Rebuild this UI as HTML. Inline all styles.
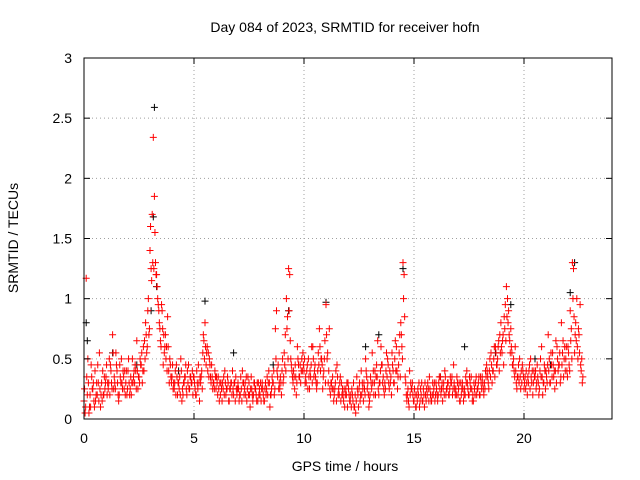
<!DOCTYPE html>
<html><head><meta charset="utf-8"><style>
body{margin:0;background:#fff;}
svg{display:block;font-family:"Liberation Sans",sans-serif;}
</style></head><body>
<svg id="c" width="640" height="480" xmlns="http://www.w3.org/2000/svg">
<text x="345" y="32" font-size="14" text-anchor="middle">Day 084 of 2023, SRMTID for receiver hofn</text>
<text x="345" y="471" font-size="14" text-anchor="middle">GPS time / hours</text>
<text transform="translate(18,238) rotate(-90)" font-size="14" text-anchor="middle">SRMTID / TECUs</text>
<g id="grid"></g><g id="marks"></g><g id="axes"></g>
</svg>
<script>
const xTicks=[0,5,10,15,20];
const yTicks=[0,0.5,1,1.5,2,2.5,3];
const yTickLabels=["0","0.5","1","1.5","2","2.5","3"];
const redStart=0, redStep=0.1;
const redA=[0.15,1.17,0.3,0.1,0.25,0.4,0.2,0.55,0.3,0.2,
0.35,0.25,0.45,0.7,0.3,0.4,0.2,0.5,0.35,0.3,
0.4,0.25,0.5,0.3,0.65,0.35,0.45,0.6,0.8,0.9,
1.4,1.7,1.85,1.2,0.9,0.6,0.45,0.7,0.85,0.5,
0.35,0.25,0.45,0.3,0.5,0.2,0.35,0.4,0.25,0.3,
0.35,0.2,0.45,0.3,0.55,0.8,0.6,0.5,0.45,0.3,
0.25,0.35,0.2,0.3,0.4,0.25,0.15,0.3,0.2,0.35,
0.3,0.2,0.4,0.25,0.15,0.3,0.35,0.2,0.25,0.15,
0.2,0.3,0.15,0.25,0.4,0.2,0.3,0.75,0.35,0.25,
0.4,0.55,1.0,1.25,0.5,0.3,0.45,0.6,0.35,0.5,
0.4,0.3,0.5,0.35,0.6,0.45,0.3,0.75,0.5,0.4,
0.95,0.3,0.2,0.35,0.25,0.45,0.2,0.3,0.15,0.25,
0.3,0.15,0.2,0.1,0.35,0.25,0.4,0.15,0.5,0.3,
0.2,0.55,0.3,0.45,0.2,0.6,0.35,0.25,0.5,0.4,
0.55,0.3,0.6,0.45,0.8,1.3,0.35,0.2,0.4,0.25,
0.15,0.1,0.2,0.25,0.15,0.3,0.2,0.35,0.15,0.25,
0.3,0.2,0.35,0.15,0.4,0.25,0.2,0.3,0.45,0.25,
0.2,0.15,0.3,0.25,0.4,0.2,0.35,0.15,0.3,0.25,
0.2,0.35,0.3,0.45,0.25,0.55,0.4,0.6,0.5,0.7,
0.55,0.85,1.1,0.9,0.75,0.45,0.6,0.35,0.5,0.3,
0.25,0.4,0.3,0.5,0.2,0.35,0.45,0.25,0.6,0.3,
0.4,0.7,0.3,0.55,0.25,0.6,0.45,0.8,0.35,0.5,
0.6,0.9,1.3,0.55,1.0,0.7,0.4];
const redB=[0.05,0.2,0.1,0.35,0.15,0.2,0.3,0.1,0.4,0.25,
0.2,0.5,0.3,0.25,0.55,0.2,0.35,0.25,0.4,0.2,
0.3,0.2,0.35,0.4,0.25,0.5,0.3,0.65,0.55,0.7,
1.25,2.34,1.3,1.0,0.75,0.9,0.55,0.6,0.4,0.35,
0.25,0.4,0.2,0.35,0.15,0.3,0.25,0.45,0.35,0.2,
0.25,0.3,0.15,0.4,0.65,0.45,0.55,0.35,0.25,0.4,
0.3,0.15,0.25,0.35,0.2,0.3,0.25,0.4,0.3,0.2,
0.15,0.25,0.3,0.2,0.35,0.1,0.2,0.3,0.15,0.2,
0.15,0.2,0.3,0.2,0.1,0.35,0.2,0.9,0.25,0.3,
0.3,0.7,0.85,1.2,0.4,0.35,0.2,0.45,0.3,0.55,
0.3,0.45,0.25,0.6,0.35,0.3,0.55,0.4,0.25,0.65,
0.5,0.75,0.3,0.15,0.4,0.2,0.35,0.25,0.1,0.3,
0.2,0.1,0.3,0.05,0.2,0.15,0.3,0.25,0.35,0.1,
0.3,0.4,0.2,0.65,0.3,0.45,0.2,0.55,0.3,0.35,
0.4,0.65,0.25,0.7,0.6,1.2,0.2,0.15,0.3,0.2,
0.2,0.15,0.1,0.3,0.2,0.15,0.25,0.2,0.3,0.15,
0.2,0.35,0.25,0.3,0.2,0.3,0.35,0.2,0.25,0.35,
0.3,0.2,0.15,0.35,0.25,0.3,0.15,0.25,0.2,0.35,
0.3,0.25,0.4,0.35,0.5,0.3,0.6,0.45,0.65,0.8,
0.7,0.95,1.0,0.65,0.55,0.4,0.3,0.45,0.25,0.4,
0.35,0.2,0.45,0.3,0.4,0.25,0.3,0.5,0.2,0.4,
0.3,0.5,0.45,0.35,0.65,0.4,0.3,0.55,0.6,0.4,
0.45,0.75,1.25,0.8,0.5,0.95,0.3];
const redC=[0.25,0.35,0.05,0.45,0.3,0.15,0.45,0.25,0.15,0.35,
0.45,0.3,0.4,0.55,0.25,0.3,0.45,0.3,0.25,0.4,
0.5,0.35,0.3,0.45,0.4,0.3,0.55,0.4,0.7,1.0,
1.6,1.3,1.55,1.1,0.8,0.95,0.7,0.5,0.6,0.45,
0.45,0.3,0.35,0.25,0.4,0.3,0.45,0.3,0.35,0.4,
0.3,0.4,0.3,0.35,0.7,0.6,0.4,0.45,0.35,0.25,
0.35,0.25,0.3,0.25,0.3,0.35,0.25,0.2,0.3,0.25,
0.25,0.35,0.3,0.3,0.25,0.2,0.25,0.3,0.2,0.3,
0.3,0.25,0.25,0.35,0.3,0.25,0.4,0.5,0.45,0.35,
0.5,0.45,0.75,0.9,0.45,0.4,0.35,0.5,0.45,0.4,
0.5,0.4,0.35,0.45,0.5,0.35,0.4,0.6,0.45,0.5,
0.7,0.4,0.3,0.25,0.3,0.35,0.3,0.2,0.25,0.2,
0.25,0.2,0.15,0.2,0.25,0.3,0.2,0.3,0.4,0.2,
0.35,0.3,0.4,0.35,0.3,0.45,0.25,0.4,0.45,0.3,
0.45,0.5,0.4,0.55,0.7,1.0,0.3,0.25,0.2,0.3,
0.25,0.2,0.3,0.2,0.25,0.2,0.3,0.25,0.2,0.3,
0.25,0.3,0.2,0.25,0.35,0.3,0.25,0.35,0.3,0.2,
0.25,0.3,0.25,0.2,0.3,0.35,0.25,0.3,0.35,0.3,
0.35,0.3,0.25,0.4,0.4,0.45,0.5,0.55,0.6,0.55,
0.65,0.75,0.85,0.7,0.6,0.5,0.4,0.35,0.35,0.45,
0.3,0.3,0.4,0.35,0.3,0.4,0.35,0.4,0.35,0.45,
0.35,0.4,0.55,0.45,0.4,0.5,0.55,0.45,0.5,0.6,
0.55,0.65,1.0,0.7,0.6,0.55,0.5];
const redD=[0.1,0.5,0.2,0.25,0.1,0.3,0.15,0.2,0.2,0.3,
0.3,0.2,0.25,0.35,0.45,0.15,0.3,0.4,0.2,0.25,
0.2,0.3,0.4,0.25,0.35,0.45,0.4,0.5,0.6,0.75,
1.15,1.25,1.2,0.95,0.65,0.75,0.6,0.4,0.3,0.3,
0.3,0.2,0.3,0.2,0.25,0.35,0.2,0.25,0.3,0.35,
0.2,0.25,0.35,0.25,0.5,0.55,0.35,0.3,0.3,0.35,
0.2,0.3,0.15,0.2,0.25,0.15,0.3,0.25,0.15,0.25,
0.2,0.15,0.2,0.35,0.2,0.25,0.15,0.25,0.3,0.25,
0.25,0.15,0.2,0.3,0.2,0.3,0.25,0.4,0.3,0.2,
0.35,0.4,0.5,0.65,0.35,0.25,0.3,0.35,0.4,0.45,
0.35,0.25,0.4,0.3,0.4,0.25,0.45,0.5,0.35,0.3,
0.55,0.25,0.25,0.2,0.15,0.25,0.15,0.2,0.2,0.1,
0.15,0.25,0.1,0.15,0.1,0.2,0.25,0.2,0.25,0.15,
0.25,0.2,0.35,0.25,0.4,0.3,0.3,0.35,0.25,0.2,
0.3,0.4,0.35,0.35,0.5,0.85,0.15,0.1,0.25,0.15,
0.1,0.25,0.15,0.15,0.1,0.25,0.15,0.15,0.2,0.2,
0.15,0.25,0.3,0.2,0.25,0.2,0.3,0.25,0.2,0.3,
0.15,0.25,0.2,0.3,0.2,0.25,0.2,0.2,0.25,0.2,
0.25,0.2,0.35,0.3,0.35,0.4,0.35,0.45,0.4,0.6,
0.45,0.65,0.8,0.55,0.45,0.35,0.25,0.3,0.4,0.35,
0.25,0.35,0.25,0.4,0.35,0.3,0.2,0.35,0.3,0.25,
0.45,0.3,0.35,0.4,0.3,0.45,0.35,0.65,0.4,0.35,
0.4,0.5,0.85,0.65,0.75,0.45,0.35];
const blackT=[0.1,0.15,3.2,3.15,3.05,3.3,5.5,11.0,14.5,22.3,22.1,19.4,1.3,2.4,4.3,6.8,8.6,12.8,13.4,17.3,18.7,20.5,21.2,9.3,16.2];
const blackV=[0.8,0.65,2.59,1.68,0.9,1.1,0.98,0.97,1.25,1.3,1.05,0.95,0.55,0.45,0.4,0.55,0.45,0.6,0.7,0.6,0.55,0.5,0.45,0.9,0.35];

const L=84,R=612,T=58,B=419;
const xs=v=>L+v/24*(R-L), ys=v=>B-v/3*(B-T);
const NS="http://www.w3.org/2000/svg";
function mk(tag,attrs,parent){const e=document.createElementNS(NS,tag);for(const k in attrs)e.setAttribute(k,attrs[k]);parent.appendChild(e);return e;}
const grid=document.getElementById('grid'),marks=document.getElementById('marks'),axes=document.getElementById('axes');
xTicks.forEach(t=>{const x=xs(t);
 if(t>0){const g=mk('line',{x1:x,x2:x,y1:T,y2:B,stroke:'#a0a0a0','stroke-dasharray':'1,3'},grid);
 
 }
 mk('line',{x1:x,x2:x,y1:B,y2:B-6,stroke:'#000'},axes);
 mk('line',{x1:x,x2:x,y1:T,y2:T+6,stroke:'#000'},axes);
 const lb=mk('text',{x:x,y:443,'font-size':14,'text-anchor':'middle'},axes);lb.textContent=t;
 
 
});
yTicks.forEach((t,i)=>{const y=ys(t);
 if(t>0&&t<3){const g=mk('line',{x1:L,x2:R,y1:y,y2:y,stroke:'#a0a0a0','stroke-dasharray':'1,3'},grid);
 
 }
 mk('line',{x1:L,x2:L+6,y1:y,y2:y,stroke:'#000'},axes);
 mk('line',{x1:R,x2:R-6,y1:y,y2:y,stroke:'#000'},axes);
 const lb=mk('text',{x:72,y:y+5,'font-size':14,'text-anchor':'end'},axes);lb.textContent=yTickLabels[i];
 
 
});
const fr=mk('rect',{x:L,y:T,width:R-L,height:B-T,fill:'none',stroke:'#000'},axes);


function plus(t,v,col,name){const x=xs(t),y=ys(v);
 const p=mk('path',{d:`M${x-3.5},${y}h7M${x},${y-3.5}v7`,stroke:col,'stroke-width':1,fill:'none'},marks);
 
 }
blackT.forEach((t,i)=>plus(t,blackV[i],'#000','black-point'));
redA.forEach((v,i)=>plus(redStart+i*redStep,v,'#f00','red-point'));
redB.forEach((v,i)=>plus(redStart+0.05+i*redStep,v,'#f00','red-point'));
redC.forEach((v,i)=>plus(redStart+0.025+i*redStep,v,'#f00','red-point'));
redD.forEach((v,i)=>plus(redStart+0.075+i*redStep,v,'#f00','red-point'));
</script>
</body></html>
